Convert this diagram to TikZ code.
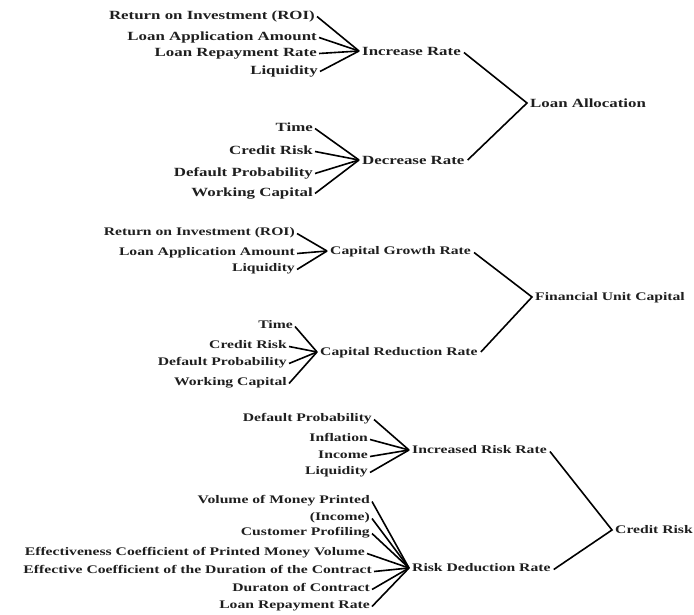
\documentclass[tikz,border=0pt]{standalone}
\usepackage{fontspec}
\setmainfont{Liberation Serif}[FakeStretch=1.35]
\begin{document}
\begin{tikzpicture}[x=1pt,y=-1pt,
  labA/.style={inner ysep=0pt, text height=8.3pt, text depth=0pt, text=black!88, font=\fontsize{12.5}{14}\selectfont\bfseries},
  labB/.style={inner ysep=0pt, text height=7.6pt, text depth=0pt, text=black!88, font=\fontsize{11.6}{13}\selectfont\bfseries},
  leaf/.style={anchor=east, inner xsep=2pt},
  mid/.style={anchor=west, inner xsep=3pt},
  link/.style={line width=1.6pt}]
\useasboundingbox (0,0) rectangle (694,615);
% Section 1
\node[labA,leaf] (a1) at (317,15) {Return on Investment (ROI)};
\node[labA,leaf] (a2) at (319,36) {Loan Application Amount};
\node[labA,leaf] (a3) at (319,52) {Loan Repayment Rate};
\node[labA,leaf] (a4) at (320,70) {Liquidity};
\node[labA,mid] (ir) at (359,51) {Increase Rate};
\node[labA,mid] (la) at (527,103) {Loan Allocation};
\node[labA,leaf] (b1) at (315,127) {Time};
\node[labA,leaf] (b2) at (315,150) {Credit Risk};
\node[labA,leaf] (b3) at (315,172) {Default Probability};
\node[labA,leaf] (b4) at (315,192) {Working Capital};
\node[labA,mid] (dr) at (359,160) {Decrease Rate};
\foreach \l in {a1,a2,a3,a4} \draw[link] ([yshift=-1.5pt]\l.east) -- (ir.west);
\foreach \l in {b1,b2,b3,b4} \draw[link] ([yshift=-1.5pt]\l.east) -- (dr.west);
\draw[link] ([yshift=-1.5pt]ir.east) -- (la.west) -- (dr.east);
% Section 2
\node[labB,leaf] (c1) at (297,232) {Return on Investment (ROI)};
\node[labB,leaf] (c2) at (297,252) {Loan Application Amount};
\node[labB,leaf] (c3) at (297,268) {Liquidity};
\node[labB,mid] (cg) at (327,251) {Capital Growth Rate};
\node[labB,mid] (fu) at (532,297) {Financial Unit Capital};
\node[labB,leaf] (d1) at (295,325) {Time};
\node[labB,leaf] (d2) at (289,345) {Credit Risk};
\node[labB,leaf] (d3) at (289,362) {Default Probability};
\node[labB,leaf] (d4) at (289,382) {Working Capital};
\node[labB,mid] (cr) at (317,352) {Capital Reduction Rate};
\foreach \l in {c1,c2,c3} \draw[link] ([yshift=-1.5pt]\l.east) -- (cg.west);
\foreach \l in {d1,d2,d3,d4} \draw[link] ([yshift=-1.5pt]\l.east) -- (cr.west);
\draw[link] ([yshift=-1.5pt]cg.east) -- (fu.west) -- (cr.east);
% Section 3
\node[labB,leaf] (e1) at (374,418) {Default Probability};
\node[labB,leaf] (e2) at (370,438) {Inflation};
\node[labB,leaf] (e3) at (370,455) {Income};
\node[labB,leaf] (e4) at (370,471) {Liquidity};
\node[labB,mid] (ri) at (409,450) {Increased Risk Rate};
\node[labB,mid] (ck) at (612,530) {Credit Risk};
\node[labB,leaf] (f1) at (372,500) {Volume of Money Printed};
\node[labB,leaf] (f2) at (372,517) {(Income)};
\node[labB,leaf] (f3) at (372,532) {Customer Profiling};
\node[labB,leaf] (f4) at (367,552) {Effectiveness Coefficient of Printed Money Volume};
\node[labB,leaf] (f5) at (374,570) {Effective Coefficient of the Duration of the Contract};
\node[labB,leaf] (f6) at (372,588) {Duraton of Contract};
\node[labB,leaf] (f7) at (372,605) {Loan Repayment Rate};
\node[labB,mid] (rd) at (409,568) {Risk Deduction Rate};
\foreach \l in {e1,e2,e3,e4} \draw[link] ([yshift=-1.5pt]\l.east) -- (ri.west);
\foreach \l in {f1,f2,f3,f4,f5,f6,f7} \draw[link] ([yshift=-1.5pt]\l.east) -- (rd.west);
\draw[link] ([yshift=-1.5pt]ri.east) -- (ck.west) -- ([yshift=-1.5pt]rd.east);
\end{tikzpicture}
\end{document}
